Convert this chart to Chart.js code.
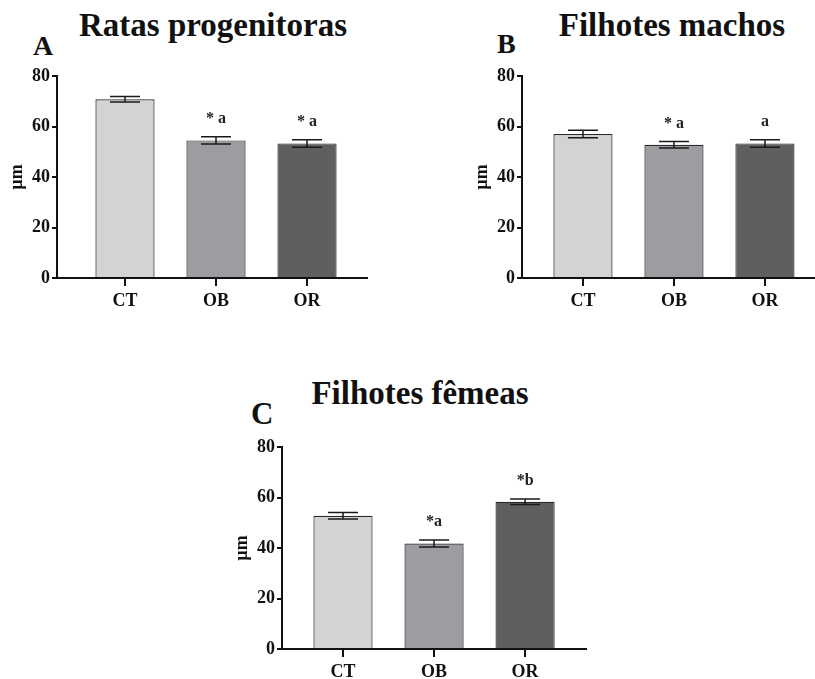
<!DOCTYPE html>
<html>
<head>
<meta charset="utf-8">
<script src="https://cdn.jsdelivr.net/npm/chart.js@4/dist/chart.umd.min.js"></script>
<style>
  html, body { margin: 0; padding: 0; background: #fff; }
  #page { position: relative; width: 815px; height: 679px; overflow: hidden; background: #fff; }
  canvas { position: absolute; }
  .ttl, .lbl { position: absolute; font-family: "Liberation Serif", "DejaVu Serif", serif; font-weight: bold; color: #111; line-height: 1; white-space: nowrap; }
  .ttl { font-size: 33px; transform: translateX(-50%); }
  .lbl { font-size: 28px; }
</style>
</head>
<body>
<div id="page">
  <div class="ttl" style="left:213px; top:9px;">Ratas progenitoras</div>
  <div class="lbl" style="left:33px; top:32px;">A</div>
  <div class="ttl" style="left:672px; top:9px;">Filhotes machos</div>
  <div class="lbl" style="left:497px; top:30px;">B</div>
  <div class="ttl" style="left:420px; top:377px;">Filhotes fêmeas</div>
  <div class="lbl" style="left:251px; top:398px; font-size:31px;">C</div>

  <canvas id="chartA" width="368" height="320" style="left:0px; top:0px;"></canvas>
  <canvas id="chartB" width="350" height="320" style="left:465px; top:0px;"></canvas>
  <canvas id="chartC" width="362" height="320" style="left:225px; top:371px;"></canvas>
</div>
<script>
// groups and y ticks
const groups = ['CT', 'OB', 'OR'];
const yTicks = [0, 20, 40, 60, 80];
const barColors = ['#d3d3d3', '#9d9da1', '#5f5f5f'];

// A - Ratas progenitoras
const ratasMeans = [70.8, 54.5, 53.3];
const ratasSem = [1.1, 1.4, 1.5];
const ratasMarks = ['', '* a', '* a'];

// B - Filhotes machos
const machosMeans = [57.0, 52.8, 53.3];
const machosSem = [1.5, 1.3, 1.5];
const machosMarks = ['', '* a', 'a'];

// C - Filhotes femeas
const femeasMeans = [52.8, 41.8, 58.3];
const femeasSem = [1.3, 1.4, 1.1];
const femeasMarks = ['', '*a', '*b'];

const serif = '"Liberation Serif", "DejaVu Serif", serif';

// error bars + significance letters
const extrasPlugin = {
  id: 'extras',
  afterDatasetsDraw(chart, args, opts) {
    const { ctx, scales: { x, y } } = chart;
    ctx.save();
    ctx.strokeStyle = '#1a1a1a';
    ctx.lineWidth = 1.5;
    opts.means.forEach((m, i) => {
      const cx = x.getPixelForValue(i);
      const top = y.getPixelForValue(m + opts.sem[i]);
      const bot = y.getPixelForValue(m - opts.sem[i]);
      ctx.beginPath();
      ctx.moveTo(cx, top); ctx.lineTo(cx, bot);
      ctx.moveTo(cx - 15, top); ctx.lineTo(cx + 15, top);
      ctx.moveTo(cx - 15, bot); ctx.lineTo(cx + 15, bot);
      ctx.stroke();
      if (opts.marks[i]) {
        ctx.fillStyle = '#222';
        ctx.font = 'bold 16px ' + serif;
        ctx.textAlign = 'center';
        ctx.textBaseline = 'middle';
        ctx.fillText(opts.marks[i], cx, top - 18);
      }
    });
    ctx.restore();
  }
};

function makePanel(id, means, sem, marks, xMin, xMax) {
  const ctx = document.getElementById(id).getContext('2d');
  return new Chart(ctx, {
    type: 'bar',
    data: {
      datasets: [{
        data: means.map((v, i) => ({ x: i, y: v })),
        backgroundColor: barColors,
        borderColor: '#2a2a2a',
        borderWidth: 1.2,
        categoryPercentage: 1,
        barPercentage: 0.65
      }]
    },
    options: {
      responsive: false,
      animation: false,
      devicePixelRatio: 1,
      layout: { padding: { top: 76, left: 0, right: 0, bottom: 0 } },
      plugins: {
        legend: { display: false },
        tooltip: { enabled: false },
        extras: { means: means, sem: sem, marks: marks }
      },
      scales: {
        x: {
          type: 'linear',
          min: xMin,
          max: xMax,
          offset: false,
          afterBuildTicks: s => { s.ticks = groups.map((g, i) => ({ value: i })); },
          afterFit: s => { s.height = 42; },
          grid: { display: true, offset: false, drawOnChartArea: false, drawTicks: true, tickLength: 8, lineWidth: 2, color: '#111' },
          border: { display: true, color: '#111', width: 2 },
          ticks: {
            color: '#111',
            padding: 5,
            maxRotation: 0,
            autoSkip: false,
            font: { family: serif, size: 18, weight: 'bold' },
            callback: v => groups[v]
          }
        },
        y: {
          min: 0,
          max: 80,
          afterBuildTicks: s => { s.ticks = yTicks.map(v => ({ value: v })); },
          afterFit: s => { s.width = 57; },
          grid: { display: true, drawOnChartArea: false, drawTicks: true, tickLength: 5, lineWidth: 2, color: '#111' },
          border: { display: true, color: '#111', width: 2 },
          ticks: {
            color: '#111',
            padding: 2,
            font: { family: serif, size: 18, weight: 'bold' }
          },
          title: {
            display: true,
            text: 'µm',
            color: '#111',
            padding: { top: 7, bottom: 0 },
            font: { family: serif, size: 18, weight: 'bold' }
          }
        }
      }
    },
    plugins: [extrasPlugin]
  });
}

makePanel('chartA', ratasMeans, ratasSem, ratasMarks, -0.747, 2.67);
makePanel('chartB', machosMeans, machosSem, machosMarks, -0.67, 2.55);
makePanel('chartC', femeasMeans, femeasSem, femeasMarks, -0.67, 2.68);
</script>
</body>
</html>
